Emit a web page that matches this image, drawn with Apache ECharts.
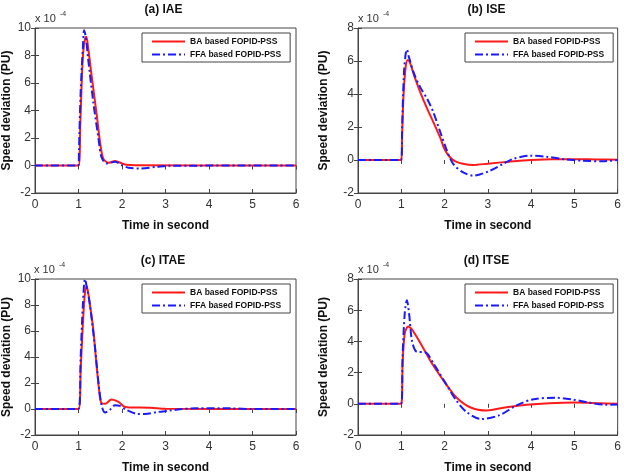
<!DOCTYPE html>
<html>
<head>
<meta charset="utf-8">
<script src="https://cdn.jsdelivr.net/npm/echarts@6/dist/echarts.min.js"></script>
<style>
  html, body { margin: 0; padding: 0; background: #fff; }
  #chart { width: 624px; height: 475px; }
</style>
</head>
<body>
<div id="chart"></div>
<script>
// values are in units of 1e-4 PU, pairs of [time, value]
const iaeBA = [[0,0],[1.0,0],[1.04,2.9],[1.08,6.6],[1.11,8.3],[1.15,9.2],[1.18,9.36],[1.22,8.6],[1.3,6.57],[1.42,3.66],[1.5,1.6],[1.57,0.5],[1.69,0.2],[1.84,0.32],[2.0,0.15],[2.1,0.05],[2.3,0.02],[6,0]]
const iaeFFA = [[0,0],[1.0,0],[1.01,1],[1.05,5.4],[1.1,8.5],[1.13,9.84],[1.17,9.3],[1.22,7.8],[1.34,4.6],[1.46,1.96],[1.53,0.6],[1.65,0.15],[1.84,0.27],[2.0,0.02],[2.15,-0.17],[2.42,-0.22],[2.8,-0.1],[3.1,-0.02],[6,0]]

const iseBA = [[0,0],[1,0],[1.02,1.5],[1.05,3.8],[1.1,5.6],[1.15,6.06],[1.2,5.9],[1.3,5.1],[1.44,4.1],[1.6,3.1],[1.74,2.3],[1.9,1.35],[2.0,0.65],[2.13,0.15],[2.25,-0.08],[2.45,-0.24],[2.66,-0.3],[3.0,-0.22],[3.5,-0.1],[4.0,0],[4.5,0.05],[5,0.05],[5.5,0.03],[6,0.02]]
const iseFFA = [[0,0],[1,0],[1.02,2],[1.06,5.2],[1.1,6.4],[1.13,6.7],[1.17,6.3],[1.3,5.2],[1.44,4.4],[1.6,3.7],[1.74,2.9],[1.9,1.7],[2.05,0.6],[2.2,-0.24],[2.43,-0.75],[2.66,-0.95],[3.05,-0.65],[3.35,-0.24],[3.58,0.06],[3.97,0.26],[4.35,0.2],[4.73,0.06],[5.19,-0.04],[5.65,-0.08],[6,0]]

const itaeBA = [[0,0],[1,0],[1.05,3],[1.1,6.5],[1.15,9.0],[1.19,9.44],[1.25,8.3],[1.34,6.1],[1.42,3.2],[1.49,1.0],[1.53,0.45],[1.61,0.4],[1.76,0.73],[1.92,0.54],[2.07,0.15],[2.2,0.12],[2.65,0.1],[3.0,0.02],[6,0]]
const itaeFFA = [[0,0],[1,0],[1.05,4],[1.1,8],[1.15,10],[1.2,9.2],[1.26,8.1],[1.38,4.7],[1.46,2.0],[1.53,0.3],[1.61,-0.27],[1.72,-0.07],[1.84,0.29],[1.95,0.24],[2.1,-0.07],[2.34,-0.37],[2.53,-0.39],[2.8,-0.24],[3.1,-0.12],[3.33,-0.02],[3.7,0.05],[4.5,0.05],[5,0],[6,0]]

const itseBA = [[0,0],[1,0],[1.03,2.5],[1.08,4.5],[1.16,4.96],[1.25,4.75],[1.44,3.9],[1.74,2.45],[2.05,1.2],[2.28,0.39],[2.59,-0.22],[2.97,-0.43],[3.43,-0.22],[3.89,-0.06],[4.42,0.04],[5.03,0.08],[5.56,0.04],[6,0]]
const itseFFA = [[0,0],[1,0],[1.03,3],[1.08,5.8],[1.13,6.63],[1.18,5.8],[1.25,4.0],[1.36,3.33],[1.55,3.3],[1.74,2.6],[2.05,1.2],[2.28,0.18],[2.51,-0.53],[2.85,-0.98],[3.27,-0.73],[3.65,-0.12],[4.03,0.28],[4.57,0.39],[4.95,0.28],[5.33,0.08],[5.72,-0.06],[6,-0.05]]

const titles = ['(a) IAE', '(b) ISE', '(c) ITAE', '(d) ITSE']
const yMax = [10, 8, 10, 8]
const seriesNames = ['BA based FOPID-PSS', 'FFA based FOPID-PSS']
const xName = 'Time in second'
const yName = 'Speed deviation (PU)'

const panelData = [[iaeBA, iaeFFA], [iseBA, iseFFA], [itaeBA, itaeFFA], [itseBA, itseFFA]]

// panel boxes  [left, top, width, height]
const boxes = [[35, 28, 261, 165], [358, 28, 261, 165], [34, 279, 262, 164], [358, 279, 261, 164]]
const yNameGap = [22, 28, 22, 28]

const chart = echarts.init(document.getElementById('chart'))

const grid = [], xAxis = [], yAxis = [], series = [], legend = [], graphic = []
const boxColor = '#444'
const labelFont = { fontFamily: 'Liberation Sans', fontSize: 12, color: '#333' }

boxes.forEach((b, i) => {
    grid.push({ left: b[0], top: b[1], width: b[2], height: b[3], show: true, borderColor: boxColor, borderWidth: 1, backgroundColor: '#fff' })

    // bottom / left axes with labels
    xAxis.push({
        type: 'value', gridIndex: i, min: 0, max: 6, interval: 1,
        name: xName, nameLocation: 'middle', nameGap: 27,
        nameTextStyle: { fontFamily: 'Liberation Sans', fontWeight: 'bold', fontSize: 12, color: '#111' },
        axisLine: { show: true, onZero: false, lineStyle: { color: boxColor } },
        axisTick: { inside: true, length: 4, lineStyle: { color: boxColor } },
        axisLabel: Object.assign({ margin: 6 }, labelFont),
        splitLine: { show: false }
    })
    yAxis.push({
        type: 'value', gridIndex: i, min: -2, max: yMax[i], interval: 2,
        name: yName, nameLocation: 'middle', nameGap: yNameGap[i], nameRotate: 90,
        nameTextStyle: { fontFamily: 'Liberation Sans', fontWeight: 'bold', fontSize: 12, color: '#111' },
        axisLine: { show: true, onZero: false, lineStyle: { color: boxColor } },
        axisTick: { inside: true, length: 4, lineStyle: { color: boxColor } },
        axisLabel: Object.assign({ margin: 4 }, labelFont),
        splitLine: { show: false }
    })
    // top / right axes just for the ticks
    xAxis.push({
        type: 'value', gridIndex: i, position: 'top', min: 0, max: 6, interval: 1,
        axisLine: { show: false }, axisLabel: { show: false }, splitLine: { show: false },
        axisTick: { inside: true, length: 4, lineStyle: { color: boxColor } }
    })
    yAxis.push({
        type: 'value', gridIndex: i, position: 'right', min: -2, max: yMax[i], interval: 2,
        axisLine: { show: false }, axisLabel: { show: false }, splitLine: { show: false },
        axisTick: { inside: true, length: 4, lineStyle: { color: boxColor } }
    })

    series.push({
        name: seriesNames[0], type: 'line', xAxisIndex: i * 2, yAxisIndex: i * 2,
        data: panelData[i][0], symbol: 'none', smooth: 0.3,
        lineStyle: { color: '#ff1a1a', width: 2 }, itemStyle: { color: '#ff1a1a' }, z: 2
    })
    series.push({
        name: seriesNames[1], type: 'line', xAxisIndex: i * 2, yAxisIndex: i * 2,
        data: panelData[i][1], symbol: 'none', smooth: 0.3,
        lineStyle: { color: '#1a1aff', width: 2, type: [8, 3, 2, 3] }, itemStyle: { color: '#1a1aff' }, z: 3
    })

    legend.push({
        data: seriesNames, orient: 'vertical',
        left: b[0] + b[2] - 154, top: b[1] + 5,
        backgroundColor: '#fff', borderColor: boxColor, borderWidth: 1, borderRadius: 0,
        padding: [4, 9, 3, 9], itemGap: 4, itemWidth: 33, itemHeight: 10,
        itemStyle: { opacity: 0 },
        textStyle: { fontFamily: 'Liberation Sans', fontWeight: 'bold', fontSize: 8.5, color: '#111' },
        selectedMode: false
    })

    // title
    graphic.push({
        type: 'text', x: b[0] + b[2] / 2 - 2, y: b[1] - 18,
        style: { text: titles[i], textAlign: 'center', textVerticalAlign: 'middle', font: 'bold 12px "Liberation Sans"', fill: '#111' }
    })
    // scale factor  x 10^-4
    graphic.push({
        type: 'text', x: b[0], y: b[1] - 9,
        style: { text: 'x 10', textAlign: 'left', textVerticalAlign: 'middle', font: '11px "Liberation Sans"', fill: '#333' }
    })
    graphic.push({
        type: 'text', x: b[0] + 25, y: b[1] - 14,
        style: { text: '-4', textAlign: 'left', textVerticalAlign: 'middle', font: '7px "Liberation Sans"', fill: '#333' }
    })
})

chart.setOption({
    backgroundColor: '#fff',
    animation: false,
    grid: grid,
    xAxis: xAxis,
    yAxis: yAxis,
    legend: legend,
    graphic: graphic,
    series: series
})
</script>
</body>
</html>
